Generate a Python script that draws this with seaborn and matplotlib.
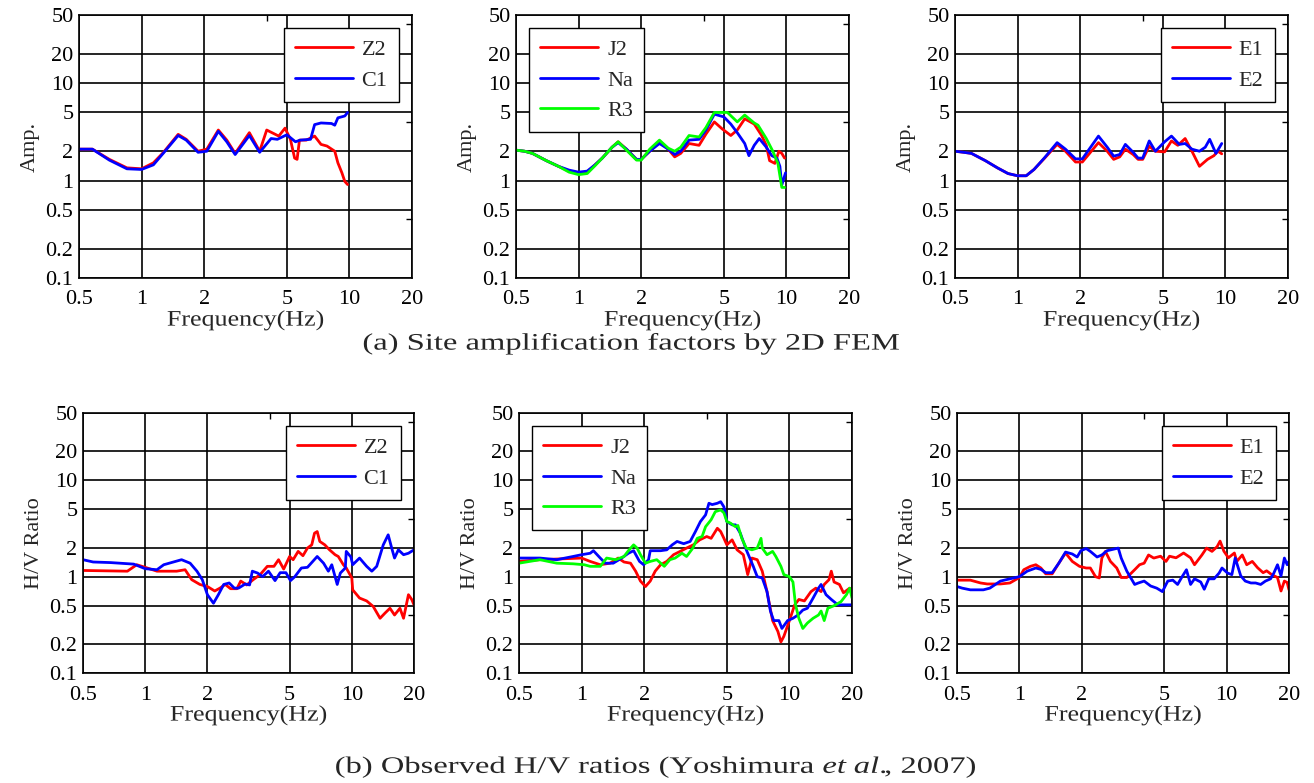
import numpy as np
import pandas as pd
import matplotlib
matplotlib.use("Agg")
import matplotlib.pyplot as plt
import seaborn as sns
from matplotlib.ticker import FixedLocator, NullFormatter
from matplotlib.patheffects import AbstractPathEffect
from matplotlib.transforms import Affine2D

# ---------------- data ----------------
# (a) top row: site amplification by 2D FEM
z2a_f = [0.5,0.58,0.7,0.85,1.0,1.14,1.27,1.5,1.64,1.87,2.06,2.34,2.57,2.82,3.3,3.7,4.0,4.57,4.9,5.2,5.45,5.6,5.75,6.2,6.8,7.3,7.8,8.5,8.8,9.2,9.5,9.8]
z2a_v = [2.1,2.1,1.65,1.35,1.32,1.52,1.93,2.98,2.65,2.0,2.1,3.3,2.6,1.9,3.1,2.0,3.3,2.86,3.45,2.65,1.7,1.65,2.6,2.6,2.86,2.35,2.26,2.0,1.52,1.2,0.98,0.91]
c1a_f = [0.5,0.58,0.7,0.85,1.0,1.14,1.27,1.5,1.64,1.87,2.06,2.34,2.57,2.82,3.3,3.7,4.2,4.5,5.0,5.5,5.8,6.5,6.8,7.3,8.2,8.5,8.8,9.5,9.8]
c1a_v = [2.1,2.1,1.62,1.32,1.3,1.45,1.9,2.9,2.6,1.95,2.0,3.2,2.5,1.85,2.9,1.95,2.7,2.65,2.95,2.5,2.6,2.65,3.75,3.9,3.85,3.7,4.4,4.6,5.0]

j2a_f = [0.5,0.55,0.6,0.7,0.8,0.9,1.0,1.1,1.2,1.3,1.45,1.55,1.7,1.9,2.0,2.2,2.45,2.7,2.9,3.1,3.4,3.8,4.1,4.5,4.9,5.4,5.8,6.3,7.0,7.6,8.0,8.3,8.8,9.2,9.5,9.8]
j2a_v = [2.05,2.0,1.9,1.6,1.4,1.25,1.2,1.22,1.45,1.7,2.2,2.5,2.1,1.65,1.65,2.0,2.5,2.1,1.75,1.9,2.4,2.3,3.0,4.0,3.4,2.9,3.3,4.3,3.8,2.9,2.3,1.6,1.5,2.0,1.9,1.7]
naa_f = [0.5,0.55,0.6,0.7,0.8,0.9,1.0,1.1,1.2,1.3,1.45,1.55,1.7,1.9,2.0,2.2,2.45,2.7,2.9,3.1,3.4,3.8,4.1,4.5,5.0,5.4,5.8,6.3,6.6,7.0,7.4,8.0,8.5,9.0,9.3,9.5,9.9]
naa_v = [2.05,2.0,1.9,1.6,1.4,1.28,1.22,1.25,1.45,1.7,2.2,2.45,2.1,1.65,1.65,2.0,2.4,2.1,1.85,2.0,2.6,2.65,3.3,4.8,4.5,3.8,3.1,2.4,1.8,2.3,2.7,2.2,1.8,1.7,1.4,0.9,1.2]
r3a_f = [0.5,0.55,0.6,0.7,0.8,0.9,1.0,1.1,1.2,1.3,1.45,1.55,1.7,1.9,2.0,2.2,2.45,2.7,2.9,3.1,3.4,3.8,4.1,4.5,5.2,5.8,6.3,7.0,7.3,8.0,8.6,9.1,9.5,9.8]
r3a_v = [2.05,2.0,1.9,1.6,1.4,1.22,1.15,1.18,1.42,1.7,2.2,2.5,2.05,1.62,1.62,2.1,2.6,2.15,2.0,2.2,2.9,2.8,3.5,5.0,5.0,4.0,4.7,3.9,3.7,2.7,2.0,1.5,0.85,0.85]

e1a_f = [0.5,0.55,0.6,0.7,0.8,0.9,1.0,1.1,1.2,1.35,1.55,1.7,1.9,2.05,2.45,2.7,2.9,3.1,3.3,3.6,3.8,4.0,4.3,4.6,5.1,5.5,5.9,6.4,6.9,7.5,8.2,8.8,9.2,9.6]
e1a_v = [2.0,1.95,1.9,1.6,1.35,1.18,1.12,1.12,1.3,1.7,2.35,2.0,1.55,1.55,2.45,2.0,1.65,1.75,2.1,1.85,1.65,1.65,2.25,2.0,1.97,2.55,2.3,2.7,2.0,1.4,1.65,1.8,2.0,1.88]
e2a_f = [0.5,0.55,0.6,0.7,0.8,0.9,1.0,1.1,1.2,1.35,1.55,1.7,1.9,2.05,2.45,2.7,2.9,3.1,3.3,3.6,3.8,4.0,4.3,4.6,5.1,5.5,6.0,6.4,6.9,7.5,8.0,8.4,9.0,9.6]
e2a_v = [2.0,1.95,1.9,1.6,1.35,1.18,1.12,1.12,1.3,1.72,2.45,2.1,1.67,1.67,2.86,2.2,1.78,1.85,2.35,1.95,1.7,1.7,2.55,2.0,2.5,2.86,2.35,2.4,2.1,2.0,2.2,2.65,1.9,2.4]

# (b) bottom row: observed H/V ratios
z2b_f = [0.5,0.82,0.91,1.0,1.14,1.42,1.56,1.68,1.84,2.0,2.17,2.3,2.44,2.59,2.78,2.9,3.1,3.33,3.6,3.9,4.2,4.42,4.68,5.0,5.2,5.5,5.8,6.1,6.4,6.6,6.8,7.0,7.4,7.8,8.3,8.6,9.1,9.4,10.0,10.1,10.9,11.8,12.7,13.7,14.5,15.3,16.1,17.1,17.8,18.8,19.5,20]
z2b_v = [1.16,1.14,1.33,1.25,1.14,1.14,1.18,0.93,0.83,0.79,0.71,0.76,0.83,0.75,0.75,0.9,0.82,0.93,1.05,1.28,1.28,1.5,1.2,1.62,1.5,1.83,1.65,1.98,2.14,2.83,2.94,2.32,2.14,1.9,1.69,1.62,1.33,1.23,0.97,0.73,0.6,0.56,0.49,0.37,0.42,0.47,0.4,0.47,0.37,0.65,0.58,0.51]
c1b_f = [0.5,0.56,0.68,0.88,1.0,1.14,1.23,1.37,1.5,1.65,1.78,1.89,2.0,2.14,2.26,2.4,2.55,2.7,2.83,3.05,3.2,3.3,3.5,3.7,3.95,4.25,4.5,4.8,5.05,5.3,5.7,6.1,6.8,7.3,7.7,8.0,8.5,8.8,9.3,9.4,9.9,10.1,10.9,11.8,12.5,13.2,14.2,15.0,15.6,16.1,16.8,17.8,18.8,20]
c1b_v = [1.5,1.42,1.4,1.35,1.21,1.18,1.33,1.42,1.5,1.38,1.14,0.93,0.65,0.53,0.65,0.83,0.86,0.76,0.76,0.84,0.82,1.14,1.09,1.0,1.14,0.91,1.1,1.1,0.91,1.0,1.23,1.25,1.62,1.38,1.14,1.33,0.83,1.09,1.23,1.83,1.6,1.33,1.56,1.28,1.14,1.28,2.14,2.72,1.98,1.56,1.9,1.69,1.75,1.9]

j2b_f = [0.5,0.63,1.0,1.1,1.23,1.37,1.5,1.6,1.72,1.82,1.92,2.03,2.14,2.26,2.4,2.57,2.77,2.98,3.2,3.45,3.7,4.0,4.2,4.5,4.67,4.84,5.0,5.3,5.6,6.0,6.3,6.6,7.0,7.4,7.8,8.3,8.8,9.1,9.4,10.0,10.6,11.1,11.8,12.7,13.4,14.2,14.7,15.5,15.9,16.4,17.4,18.2,19.5,20]
j2b_v = [1.44,1.5,1.56,1.44,1.33,1.38,1.56,1.42,1.38,1.14,0.9,0.79,0.9,1.14,1.33,1.44,1.69,1.83,1.98,2.14,2.41,2.61,2.5,3.18,2.94,2.5,2.14,2.41,1.9,1.69,1.05,1.56,1.5,1.14,0.7,0.35,0.27,0.21,0.24,0.35,0.51,0.58,0.56,0.7,0.76,0.7,0.83,0.93,1.14,0.88,0.83,0.68,0.76,0.7]
nab_f = [0.5,0.63,0.76,0.91,1.0,1.1,1.14,1.23,1.3,1.42,1.56,1.68,1.78,1.9,1.99,2.1,2.14,2.4,2.57,2.73,2.88,3.1,3.33,3.53,3.73,3.95,4.1,4.25,4.5,4.67,4.84,5.0,5.3,5.5,5.8,6.2,6.7,7.0,7.4,7.8,8.1,8.4,8.9,9.2,9.8,10.4,11.0,11.6,12.2,13.0,13.8,14.2,15.0,15.9,17.1,18.2,20]
nab_v = [1.56,1.56,1.5,1.62,1.69,1.75,1.86,1.56,1.38,1.38,1.56,1.75,1.86,1.44,1.33,1.5,1.86,1.86,1.9,2.14,2.32,2.2,2.32,2.94,3.73,4.38,5.78,5.6,5.78,6.0,5.3,3.73,3.45,3.45,2.83,1.9,1.28,1.0,0.97,0.7,0.44,0.35,0.35,0.29,0.35,0.37,0.4,0.45,0.47,0.6,0.76,0.83,0.65,0.58,0.51,0.51,0.51]
r3b_f = [0.5,0.63,0.76,0.91,1.03,1.1,1.23,1.32,1.46,1.6,1.68,1.78,1.85,1.92,2.03,2.14,2.3,2.5,2.66,2.82,3.04,3.2,3.43,3.6,3.8,3.95,4.2,4.4,4.67,4.84,5.0,5.2,5.5,5.65,5.9,6.2,6.6,7.0,7.3,7.4,7.8,8.3,8.6,9.1,9.4,10.0,10.4,10.7,11.1,11.6,12.2,13.0,13.8,14.2,14.7,15.3,16.4,17.7,18.8,19.5,20]
r3b_v = [1.38,1.5,1.38,1.36,1.33,1.28,1.28,1.56,1.5,1.62,1.86,2.14,1.98,1.69,1.38,1.44,1.5,1.28,1.5,1.56,1.75,1.62,1.98,2.5,2.61,3.3,3.9,4.73,4.93,4.6,3.73,3.6,3.3,3.4,2.5,1.98,1.9,1.98,2.5,1.98,1.69,1.83,1.62,1.28,1.05,1.0,0.88,0.51,0.37,0.29,0.33,0.37,0.4,0.44,0.35,0.47,0.5,0.55,0.65,0.76,0.6]

e1b_f = [0.5,0.58,0.65,0.7,0.81,0.9,1.0,1.05,1.13,1.2,1.27,1.34,1.44,1.55,1.67,1.8,1.95,2.1,2.2,2.33,2.43,2.5,2.6,2.75,2.95,3.1,3.3,3.6,3.8,4.0,4.2,4.45,4.8,5.1,5.3,5.7,6.2,6.7,7.0,7.6,8.0,8.5,9.0,9.3,9.7,10.2,10.9,11.2,11.9,12.5,13.3,14.1,15.0,15.6,16.5,17.6,18.3,19.0,19.6,20]
e1b_v = [0.92,0.92,0.86,0.84,0.84,0.86,0.98,1.18,1.28,1.33,1.23,1.07,1.07,1.38,1.76,1.44,1.28,1.23,1.23,1.0,0.97,1.56,1.83,1.44,1.23,0.98,0.98,1.18,1.33,1.38,1.68,1.56,1.63,1.44,1.63,1.57,1.76,1.57,1.33,1.68,1.98,1.83,2.05,2.34,1.84,1.57,1.76,1.44,1.68,1.33,1.44,1.24,1.1,1.15,1.05,0.98,0.71,0.9,0.87,0.73]
e2b_f = [0.5,0.53,0.58,0.67,0.72,0.81,0.9,1.0,1.09,1.2,1.27,1.34,1.44,1.55,1.67,1.8,1.9,1.98,2.1,2.2,2.37,2.5,2.65,2.85,3.0,3.1,3.3,3.6,3.75,4.0,4.3,4.6,4.9,5.2,5.5,5.8,6.1,6.4,6.7,7.0,7.5,7.8,8.2,8.7,9.2,9.5,10.1,10.6,11.0,11.7,12.3,13.1,13.8,14.6,15.4,16.3,16.9,17.6,18.3,19.0,19.6,20]
e2b_v = [0.79,0.76,0.73,0.73,0.76,0.9,0.95,1.0,1.14,1.23,1.19,1.1,1.1,1.38,1.8,1.72,1.6,1.86,1.96,1.83,1.6,1.68,1.86,1.93,1.98,1.56,1.14,0.83,0.86,0.9,0.8,0.76,0.7,0.9,0.92,0.83,1.0,1.18,0.83,0.95,0.88,0.74,0.95,0.95,1.09,1.23,1.09,1.05,1.56,1.02,0.9,0.86,0.86,0.83,0.9,0.95,1.09,1.33,1.02,1.56,1.33,1.45]

x_ticks = [0.5, 1, 2, 5, 10, 20]
x_labels = ["0.5", "1", "2", "5", "10", "20"]
y_ticks = [0.1, 0.2, 0.5, 1, 2, 5, 10, 20, 50]
y_labels = ["0.1", "0.2", "0.5", "1", "2", "5", "10", "20", "50"]

top_caption = "(a) Site amplification factors by 2D FEM"
bottom_caption = r"(b) Observed H/V ratios (Yoshimura $\mathit{et\ al.}\!\!$, 2007)"
x_label = "Frequency(Hz)"
y_label_top = "Amp."
y_label_bottom = "H/V Ratio"

RED, BLUE, GREEN = "#ff0000", "#0000ff", "#00ff00"

panels = [
    ([("Z2", z2a_f, z2a_v, RED), ("C1", c1a_f, c1a_v, BLUE)], "upper right", 0),
    ([("J2", j2a_f, j2a_v, RED), ("Na", naa_f, naa_v, BLUE), ("R3", r3a_f, r3a_v, GREEN)], "upper left", 0),
    ([("E1", e1a_f, e1a_v, RED), ("E2", e2a_f, e2a_v, BLUE)], "upper right", 0),
    ([("Z2", z2b_f, z2b_v, RED), ("C1", c1b_f, c1b_v, BLUE)], "upper right", 1),
    ([("J2", j2b_f, j2b_v, RED), ("Na", nab_f, nab_v, BLUE), ("R3", r3b_f, r3b_v, GREEN)], "upper left", 1),
    ([("E1", e1b_f, e1b_v, RED), ("E2", e2b_f, e2b_v, BLUE)], "upper right", 1),
]


class StretchX(AbstractPathEffect):
    """Widen text glyphs horizontally around the text centre."""
    def __init__(self, sx=1.2):
        super().__init__()
        self.sx = sx

    def draw_path(self, renderer, gc, tpath, affine, rgbFace=None):
        v = tpath.vertices
        cx = (v[:, 0].min() + v[:, 0].max()) / 2 if len(v) else 0.0
        t = Affine2D().translate(-cx, 0).scale(self.sx, 1).translate(cx, 0) + affine
        renderer.draw_path(gc, tpath, t, rgbFace)


# ---------------- style ----------------
sns.set_style("white")
plt.rcParams["font.family"] = ["Liberation Serif", "DejaVu Serif"]
plt.rcParams["mathtext.fontset"] = "custom"
plt.rcParams["mathtext.rm"] = "Liberation Serif"
plt.rcParams["mathtext.it"] = "Liberation Serif:italic"

W, H = 1314, 783
fig = plt.figure(figsize=(W / 100, H / 100), dpi=100)
fig.patch.set_facecolor("white")

boxes = [
    (79, 15, 412, 278), (516, 15, 849, 278), (955, 15, 1288, 278),
    (83, 413, 414, 673), (519, 413, 852, 673), (957, 413, 1289, 673),
]

FS = 16
for (series, loc, row), (l, t, r, b) in zip(panels, boxes):
    ax = fig.add_axes([l / W, 1 - b / H, (r - l) / W, (b - t) / H])
    for name, f, v, col in series:
        df = pd.DataFrame({"f": f, "v": v})
        sns.lineplot(data=df, x="f", y="v", ax=ax, color=col, linewidth=2.0,
                     label=name, estimator=None, sort=False)
    ax.set_xscale("log")
    ax.set_yscale("log")
    ax.set_xlim(0.5, 20)
    ax.set_ylim(0.1, 50)
    ax.xaxis.set_major_locator(FixedLocator(x_ticks))
    ax.set_xticklabels(x_labels)
    ax.yaxis.set_major_locator(FixedLocator(y_ticks))
    ax.set_yticklabels(y_labels)
    ax.xaxis.set_minor_locator(FixedLocator([4]))
    ax.yaxis.set_minor_locator(FixedLocator([0.4, 4, 40]))
    ax.xaxis.set_minor_formatter(NullFormatter())
    ax.yaxis.set_minor_formatter(NullFormatter())
    ax.tick_params(which="major", direction="in", length=0, labelsize=FS,
                   top=True, right=True, colors="black")
    ax.tick_params(axis="x", which="major", pad=9)
    ax.tick_params(axis="y", which="major", pad=4)
    ax.tick_params(which="minor", direction="in", length=4, width=1,
                   top=True, right=True, colors="black")
    ax.grid(True, which="major", color="black", linewidth=1.2)
    for sp in ax.spines.values():
        sp.set_visible(True)
        sp.set_color("black")
        sp.set_linewidth(1.2)
    xl = ax.set_xlabel(x_label, fontsize=FS, labelpad=1)
    xl.set_path_effects([StretchX(1.17)])
    ax.set_ylabel(y_label_top if row == 0 else y_label_bottom, fontsize=FS, labelpad=4)
    leg = ax.legend(loc=loc, fontsize=FS, frameon=True, fancybox=False,
                    edgecolor="black", framealpha=1, handlelength=2.6,
                    borderaxespad=0.6, handletextpad=0.4, borderpad=0.5,
                    labelspacing=0.45)
    leg.get_frame().set_linewidth(1.0)
    for ln in leg.get_lines():
        ln.set_linewidth(2.0)

t1 = fig.text(631 / W, 1 - 344 / H, top_caption, ha="center", va="center", fontsize=17)
t2 = fig.text(656 / W, 1 - 767 / H, bottom_caption, ha="center", va="center", fontsize=17)
for tt in (t1, t2):
    tt.set_path_effects([StretchX(1.38)])

fig.savefig("out.png", dpi=100, facecolor="white")
